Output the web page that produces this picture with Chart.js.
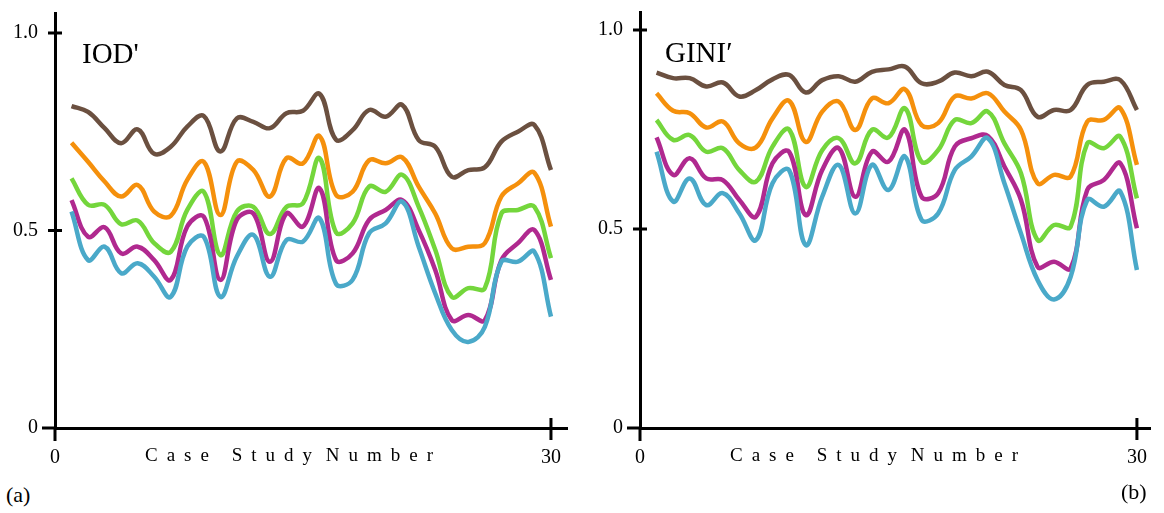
<!DOCTYPE html>
<html>
<head>
<meta charset="utf-8">
<script src="https://cdn.jsdelivr.net/npm/chart.js@4.4.1/dist/chart.umd.min.js"></script>
<style>
  html, body { margin: 0; padding: 0; background: #fff; width: 1164px; height: 513px; overflow: hidden; }
  canvas { position: absolute; top: 0; }
  .tag { position: absolute; font-family: "Liberation Serif", serif; color: #000; white-space: nowrap; }
  .name { font-size: 29px; line-height: 29px; }
  .xtitle { font-size: 19px; line-height: 20px; letter-spacing: 9px; }
  .tight { letter-spacing: 0px; }
  .sub { font-size: 22px; line-height: 22px; }
</style>
</head>
<body>
<canvas id="iodChart" width="580" height="480" style="left:0px"></canvas>
<canvas id="giniChart" width="579" height="480" style="left:585px"></canvas>

<div class="tag name" style="left:82px; top:39px">IOD'</div>
<div class="tag name" style="left:665px; top:38px">GINI′</div>
<div class="tag xtitle" style="left:145px; top:445px">Case Study<span class="tight"> </span>Number</div>
<div class="tag xtitle" style="left:730px; top:445px">Case Study<span class="tight"> </span>Number</div>
<div class="tag sub" style="left:6px; top:484px">(a)</div>
<div class="tag sub" style="left:1121px; top:481px">(b)</div>

<script>
// case studies 1..30
const caseNumbers = [1, 2, 3, 4, 5, 6, 7, 8, 9, 10, 11, 12, 13, 14, 15, 16, 17, 18, 19, 20, 21, 22, 23, 24, 25, 26, 27, 28, 29, 30];

// ticks
const xTicks = [0, 30];
const xTickLabels = ['0', '30'];
const yTicks = [0, 0.5, 1];
const yTickLabels = ['0', '0.5', '1.0'];

// (a) IOD'
const iodBlue    = [0.548, 0.425, 0.459, 0.392, 0.417, 0.383, 0.332, 0.459, 0.484, 0.332, 0.434, 0.489, 0.383, 0.476, 0.472, 0.531, 0.365, 0.375, 0.493, 0.518, 0.573, 0.459, 0.341, 0.248, 0.218, 0.256, 0.421, 0.421, 0.446, 0.282];
const iodMagenta = [0.577, 0.484, 0.508, 0.442, 0.459, 0.425, 0.375, 0.510, 0.535, 0.375, 0.527, 0.543, 0.421, 0.543, 0.510, 0.607, 0.425, 0.442, 0.527, 0.552, 0.577, 0.501, 0.400, 0.273, 0.286, 0.273, 0.425, 0.468, 0.501, 0.375];
const iodGreen   = [0.632, 0.565, 0.565, 0.516, 0.525, 0.468, 0.446, 0.552, 0.598, 0.438, 0.548, 0.560, 0.491, 0.560, 0.569, 0.683, 0.495, 0.518, 0.611, 0.598, 0.641, 0.560, 0.451, 0.332, 0.354, 0.354, 0.543, 0.552, 0.560, 0.430];
const iodOrange  = [0.722, 0.674, 0.624, 0.586, 0.615, 0.548, 0.537, 0.628, 0.674, 0.539, 0.674, 0.653, 0.586, 0.683, 0.670, 0.739, 0.590, 0.598, 0.678, 0.670, 0.685, 0.611, 0.543, 0.455, 0.459, 0.468, 0.586, 0.619, 0.646, 0.510];
const iodBrown   = [0.815, 0.800, 0.759, 0.721, 0.756, 0.694, 0.712, 0.763, 0.790, 0.700, 0.784, 0.775, 0.759, 0.797, 0.803, 0.846, 0.730, 0.754, 0.805, 0.788, 0.818, 0.729, 0.712, 0.636, 0.653, 0.660, 0.725, 0.750, 0.767, 0.653];

// (b) GINI'
const giniBlue    = [0.694, 0.569, 0.627, 0.560, 0.590, 0.539, 0.472, 0.615, 0.648, 0.460, 0.581, 0.661, 0.539, 0.661, 0.598, 0.682, 0.523, 0.539, 0.648, 0.682, 0.728, 0.615, 0.489, 0.372, 0.323, 0.380, 0.573, 0.556, 0.594, 0.397];
const giniMagenta = [0.730, 0.636, 0.678, 0.627, 0.623, 0.573, 0.531, 0.665, 0.694, 0.535, 0.648, 0.703, 0.581, 0.694, 0.669, 0.749, 0.581, 0.590, 0.707, 0.728, 0.734, 0.657, 0.573, 0.405, 0.418, 0.401, 0.598, 0.623, 0.665, 0.502];
const giniGreen   = [0.774, 0.724, 0.736, 0.694, 0.703, 0.648, 0.619, 0.707, 0.750, 0.606, 0.698, 0.728, 0.665, 0.749, 0.730, 0.803, 0.669, 0.698, 0.774, 0.766, 0.795, 0.715, 0.640, 0.472, 0.510, 0.506, 0.715, 0.703, 0.732, 0.577];
const giniOrange  = [0.841, 0.797, 0.791, 0.755, 0.770, 0.715, 0.705, 0.778, 0.822, 0.719, 0.795, 0.820, 0.749, 0.828, 0.816, 0.851, 0.761, 0.766, 0.833, 0.828, 0.841, 0.795, 0.749, 0.615, 0.636, 0.632, 0.770, 0.774, 0.803, 0.661];
const giniBrown   = [0.893, 0.879, 0.879, 0.858, 0.868, 0.833, 0.849, 0.876, 0.887, 0.843, 0.874, 0.884, 0.870, 0.895, 0.901, 0.908, 0.866, 0.870, 0.893, 0.884, 0.895, 0.862, 0.849, 0.782, 0.799, 0.799, 0.862, 0.870, 0.874, 0.799];

// blue first so it ends up drawn on top
const colores = ['#4aa9c9', '#b0298f', '#74d63c', '#f5900c', '#6b5040'];

// tick marks crossing the axes + little overhangs
const ejesExtra = {
    id: 'ejesExtra',
    afterDraw(chart) {
        const ctx = chart.ctx;
        const x = chart.scales.x, y = chart.scales.y;
        const x0 = x.getPixelForValue(0);
        const y0 = y.getPixelForValue(0);
        ctx.save();
        ctx.strokeStyle = '#000';
        ctx.lineWidth = 3;
        ctx.beginPath();
        ctx.moveTo(x0 - 13, y0); ctx.lineTo(x0, y0);
        ctx.moveTo(x0, y0); ctx.lineTo(x0, y0 + 13);
        yTicks.forEach(v => {
            if (v === 0) return;
            const py = y.getPixelForValue(v);
            ctx.moveTo(x0 - 7, py); ctx.lineTo(x0 + 7, py);
        });
        const p30 = x.getPixelForValue(30);
        ctx.moveTo(p30, y0 - 10); ctx.lineTo(p30, y0 + 12);
        ctx.stroke();
        ctx.restore();
    }
};

function crearPanel(id, series, xMax, yMax, padRight, padTop) {
    const ctx = document.getElementById(id).getContext('2d');
    return new Chart(ctx, {
        type: 'line',
        data: {
            datasets: series.map((vals, i) => ({
                data: vals.map((v, k) => ({ x: caseNumbers[k], y: v })),
                borderColor: colores[i],
                borderWidth: 4.5,
                pointRadius: 0,
                tension: 0.4,
                fill: false
            }))
        },
        options: {
            responsive: false,
            animation: false,
            events: [],
            layout: { padding: { left: 0, right: padRight, top: padTop, bottom: 0 } },
            plugins: { legend: { display: false }, tooltip: { enabled: false } },
            scales: {
                x: {
                    type: 'linear',
                    min: 0,
                    max: xMax,
                    grid: { display: false, drawTicks: false },
                    border: { display: true, color: '#000', width: 3 },
                    afterBuildTicks: s => { s.ticks = xTicks.map(v => ({ value: v })); },
                    afterFit: s => { s.height = 52; s.paddingLeft = 0; s.paddingRight = 0; },
                    ticks: {
                        autoSkip: false,
                        maxRotation: 0,
                        padding: 18,
                        color: '#000',
                        font: { family: 'Liberation Serif', size: 20 },
                        callback: (v, i) => xTickLabels[i]
                    }
                },
                y: {
                    min: 0,
                    max: yMax,
                    grid: { display: false, drawTicks: false },
                    border: { display: true, color: '#000', width: 3 },
                    afterBuildTicks: s => { s.ticks = yTicks.map(v => ({ value: v })); },
                    afterFit: s => { s.width = 55; s.paddingTop = 0; s.paddingBottom = 0; },
                    ticks: {
                        padding: 17,
                        color: '#000',
                        font: { family: 'Liberation Serif', size: 20 },
                        callback: (v, i) => yTickLabels[i]
                    }
                }
            }
        },
        plugins: [ejesExtra]
    });
}

crearPanel('iodChart', [iodBlue, iodMagenta, iodGreen, iodOrange, iodBrown], 31, 1.0506, 12.5, 13);
crearPanel('giniChart', [giniBlue, giniMagenta, giniGreen, giniOrange, giniBrown], 30.79, 1.0452, 14, 12);
</script>
</body>
</html>
